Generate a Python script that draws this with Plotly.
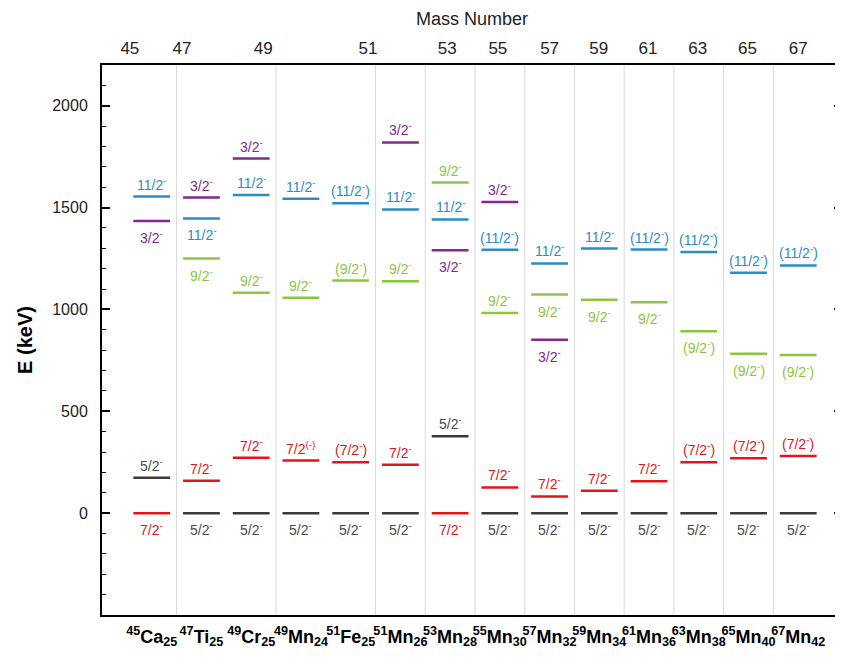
import plotly.graph_objects as go

# ---------------- data ----------------
nuclei = ["<b><sup>45</sup>Ca<sub>25</sub></b>", "<b><sup>47</sup>Ti<sub>25</sub></b>",
          "<b><sup>49</sup>Cr<sub>25</sub></b>", "<b><sup>49</sup>Mn<sub>24</sub></b>",
          "<b><sup>51</sup>Fe<sub>25</sub></b>", "<b><sup>51</sup>Mn<sub>26</sub></b>",
          "<b><sup>53</sup>Mn<sub>28</sub></b>", "<b><sup>55</sup>Mn<sub>30</sub></b>",
          "<b><sup>57</sup>Mn<sub>32</sub></b>", "<b><sup>59</sup>Mn<sub>34</sub></b>",
          "<b><sup>61</sup>Mn<sub>36</sub></b>", "<b><sup>63</sup>Mn<sub>38</sub></b>",
          "<b><sup>65</sup>Mn<sub>40</sub></b>", "<b><sup>67</sup>Mn<sub>42</sub></b>"]

mass_numbers = ["45", "47", "49", "51", "53", "55", "57", "59", "61", "63", "65", "67"]
mass_positions = [-0.44, 0.61, 2.24, 4.35, 5.94, 6.96, 8.0, 8.99, 9.98, 10.98, 11.98, 13.0]

# level energies (keV) per nucleus, None = not shown
E_52 = [174, 0, 0, 0, 0, 0, 378, 0, 0, 0, 0, 0, 0, 0]
E_72 = [0, 159, 272, 258, 250, 237, 0, 126, 82, 110, 156, 250, 270, 280]
E_92 = [None, 1250, 1082, 1057, 1142, 1139, 1623, 983, 1073, 1048, 1035, 893, 783, 776]
E_112 = [1554, 1447, 1562, 1544, 1521, 1491, 1442, 1293, 1226, 1299, 1294, 1282, 1180, 1216]
E_32 = [1434, 1549, 1741, None, None, 1820, 1290, 1527, 851, None, None, None, None, None]

M = "<sup>-</sup>"
L_52 = ["5/2" + M] * 14
L_72 = ["7/2" + M, "7/2" + M, "7/2" + M, "7/2<sup>(-)</sup>", "(7/2" + M + ")", "7/2" + M,
        "7/2" + M, "7/2" + M, "7/2" + M, "7/2" + M, "7/2" + M, "(7/2" + M + ")",
        "(7/2" + M + ")", "(7/2" + M + ")"]
L_92 = [None, "9/2" + M, "9/2" + M, "9/2" + M, "(9/2" + M + ")", "9/2" + M, "9/2" + M,
        "9/2" + M, "9/2" + M, "9/2" + M, "9/2" + M, "(9/2" + M + ")", "(9/2" + M + ")",
        "(9/2" + M + ")"]
L_112 = ["11/2" + M, "11/2" + M, "11/2" + M, "11/2" + M, "(11/2" + M + ")", "11/2" + M,
         "11/2" + M, "(11/2" + M + ")", "11/2" + M, "11/2" + M, "(11/2" + M + ")",
         "(11/2" + M + ")", "(11/2" + M + ")", "(11/2" + M + ")"]
L_32 = ["3/2" + M] * 14

# label side: 1 above the level, -1 below
S_52 = [1, -1, -1, -1, -1, -1, 1, -1, -1, -1, -1, -1, -1, -1]
S_72 = [-1, 1, 1, 1, 1, 1, -1, 1, 1, 1, 1, 1, 1, 1]
S_92 = [0, -1, 1, 1, 1, 1, 1, 1, -1, -1, -1, -1, -1, -1]
S_112 = [1, -1, 1, 1, 1, 1, 1, 1, 1, 1, 1, 1, 1, 1]
S_32 = [-1, 1, 1, 0, 0, 1, -1, 1, -1, 0, 0, 0, 0, 0]

grid_positions = [0.5, 2.5, 4.5, 5.5, 6.5, 7.5, 8.5, 9.5, 10.5, 11.5, 12.5]

series = [
    (E_52, L_52, S_52, "#3a3a3a", "#4a4a4a"),
    (E_72, L_72, S_72, "#e3141c", "#e3141c"),
    (E_92, L_92, S_92, "#8cc63f", "#8cc63f"),
    (E_112, L_112, S_112, "#2a8cc8", "#2a8cc8"),
    (E_32, L_32, S_32, "#84288f", "#84288f"),
]

HALF = 0.37
FONT = "Arial, Liberation Sans, sans-serif"

fig = go.Figure()
annotations = []
for E, L, S, lc, tc in series:
    xs, ys = [], []
    for i, e in enumerate(E):
        if e is None:
            continue
        xs += [i - HALF, i + HALF, None]
        ys += [e, e, None]
        if S[i] == 1:
            annotations.append(dict(x=i, y=e, xref="x", yref="y", text=L[i], showarrow=False,
                                    yanchor="bottom", yshift=2,
                                    font=dict(family=FONT, size=14, color=tc)))
        elif S[i] == -1:
            annotations.append(dict(x=i, y=e, xref="x", yref="y", text=L[i], showarrow=False,
                                    yanchor="top", yshift=-5,
                                    font=dict(family=FONT, size=14, color=tc)))
    fig.add_trace(go.Scatter(x=xs, y=ys, mode="lines", line=dict(color=lc, width=2.5),
                             showlegend=False, hoverinfo="skip"))

# dummy trace to activate the top axis
fig.add_trace(go.Scatter(x=[0], y=[None], xaxis="x2", mode="markers", showlegend=False,
                         hoverinfo="skip"))

shapes = [dict(type="line", xref="x", yref="paper", x0=g, x1=g, y0=0, y1=1,
               line=dict(color="#d9d9d9", width=1), layer="below") for g in grid_positions]

XR = [-1, 13.88]
fig.update_layout(
    width=835, height=649,
    margin=dict(l=94, r=1, t=57, b=42, autoexpand=False),
    plot_bgcolor="white", paper_bgcolor="white",
    font=dict(family=FONT, color="#222"),
    showlegend=False,
    shapes=shapes,
    annotations=annotations,
    xaxis=dict(range=XR, tickvals=list(range(14)), ticktext=nuclei, ticks="",
               tickangle=0, automargin=False, ticklabelstandoff=4,
               showgrid=False, zeroline=False, showline=True, linecolor="black", linewidth=2,
               mirror=True, tickfont=dict(size=18, color="black", family=FONT)),
    xaxis2=dict(range=XR, overlaying="x", side="top", tickvals=mass_positions,
                ticktext=mass_numbers, ticks="", showgrid=False, zeroline=False,
                tickangle=0, automargin=False, ticklabelstandoff=7,
                showline=False, tickfont=dict(size=17, color="#222", family=FONT),
                title=dict(text="Mass Number", font=dict(size=18, color="#222", family=FONT),
                           standoff=8)),
    yaxis=dict(range=[-500, 2200], tickvals=[0, 500, 1000, 1500, 2000], ticks="inside",
               automargin=False,
               ticklen=8, tickwidth=1.5, tickcolor="black", showgrid=False, zeroline=False,
               showline=True, linecolor="black", linewidth=2, mirror="ticks",
               tickfont=dict(size=16, color="#222", family=FONT), ticklabelstandoff=9,
               minor=dict(dtick=100, tick0=0, ticks="inside", ticklen=4, tickwidth=1.2,
                          tickcolor="black"),
               title=dict(text="<b>E (keV)</b>", font=dict(size=20, color="black", family=FONT),
                          standoff=14)),
)

fig.write_html("out.html")
